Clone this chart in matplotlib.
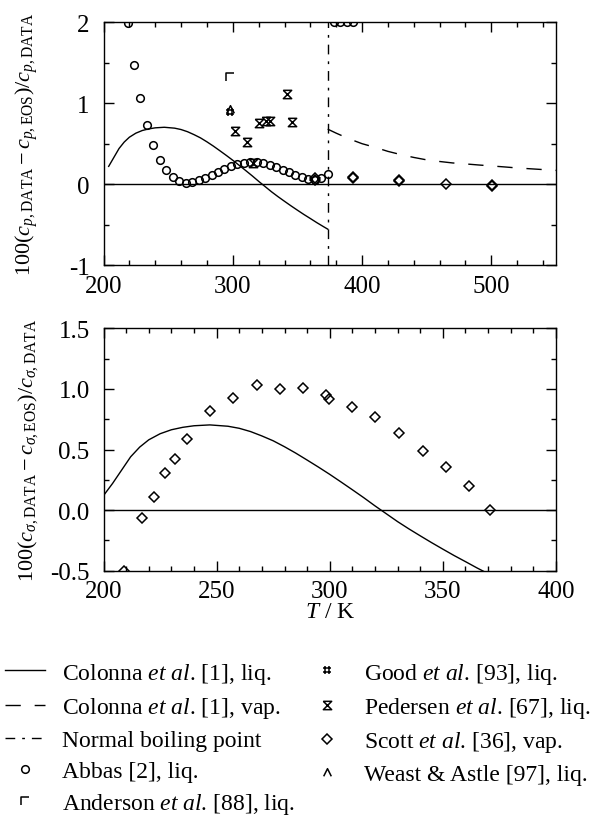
import numpy as np
import matplotlib
matplotlib.use('Agg')
import matplotlib.pyplot as plt
from matplotlib.path import Path
from matplotlib.ticker import MultipleLocator, FormatStrFormatter

plt.rcParams['font.family'] = 'serif'
plt.rcParams['font.serif'] = ['Liberation Serif', 'DejaVu Serif']
plt.rcParams['mathtext.fontset'] = 'custom'
plt.rcParams['mathtext.rm'] = 'Liberation Serif'
plt.rcParams['mathtext.it'] = 'Liberation Serif:italic'
plt.rcParams['mathtext.bf'] = 'Liberation Serif:bold'
plt.rcParams['axes.unicode_minus'] = False

#-------------------------------------------------------------------
# datos
#-------------------------------------------------------------------
# Colonna et al. [1], curva liquido (misma en ambos graficos)
T_liq = [200, 204, 208, 212, 216, 220, 225, 230, 235, 240, 247, 255, 260, 265,
         270, 275, 280, 285, 290, 295, 300, 305, 310, 315, 320, 325, 330, 335,
         340, 345, 350, 355, 360, 365, 370, 373.4]
d_liq = [0.12, 0.22, 0.33, 0.44, 0.52, 0.58, 0.63, 0.663, 0.683, 0.696, 0.703,
         0.692, 0.675, 0.648, 0.612, 0.572, 0.523, 0.47, 0.413, 0.355, 0.295,
         0.232, 0.168, 0.103, 0.035, -0.03, -0.095, -0.155, -0.212, -0.268,
         -0.322, -0.375, -0.425, -0.476, -0.524, -0.556]

# Colonna et al. [1], curva vapor
T_vap = [373.4, 380, 390, 400, 410, 420, 430, 440, 450, 460, 470, 480, 490,
         500, 510, 520, 530, 540, 550]
d_vap = [0.68, 0.63, 0.56, 0.50, 0.455, 0.405, 0.365, 0.33, 0.30, 0.28, 0.262,
         0.25, 0.237, 0.225, 0.213, 0.20, 0.19, 0.18, 0.17]

T_nbp = 373.4

# Abbas [2]
T_abbas = [218.7, 223.6, 228.5, 233.6, 238.5, 243.4, 248.6, 253.5, 258.6, 263.5,
           268.4, 273.6, 278.5, 283.7, 288.6, 293.4, 298.6, 303.5, 308.7, 313.5,
           318.5, 323.6, 328.5, 333.7, 338.6, 343.5, 348.3, 353.5, 358.4, 363.6,
           368.4, 373.6, 378.0, 383.0, 388.0, 393.0]
d_abbas = [1.99, 1.476, 1.06, 0.734, 0.483, 0.302, 0.17, 0.084, 0.038, 0.018,
           0.026, 0.051, 0.08, 0.117, 0.154, 0.19, 0.224, 0.249, 0.265, 0.273,
           0.269, 0.257, 0.236, 0.207, 0.178, 0.146, 0.112, 0.084, 0.063, 0.055,
           0.071, 0.121, 2.0, 2.0, 2.0, 2.0]

# Anderson et al. [88]
T_anderson = [297.8]
d_anderson = [1.32]

# Good et al. [93]
T_good = [298.15]
d_good = [0.89]

# Pedersen et al. [67]
T_pedersen = [301.7, 310.7, 315.9, 320.5, 325.4, 328.8, 342.2, 346.0]
d_pedersen = [0.652, 0.524, 0.257, 0.75, 0.776, 0.776, 1.114, 0.771]

# Scott et al. [36], cp
T_scott_cp = [363.6, 363.6, 393.2, 393.2, 428.8, 428.8, 464.9, 500.2, 500.2]
d_scott_cp = [0.075, 0.05, 0.09, 0.07, 0.055, 0.035, 0.0, -0.005, -0.02]

# Weast & Astle [97]
T_weast = [298.15]
d_weast = [0.93]

# Scott et al. [36], c_sigma
T_scott_cs = [209.1, 217.2, 222.5, 227.2, 231.7, 236.9, 247.1, 257.4, 267.8,
              278.0, 288.3, 298.2, 299.8, 309.7, 320.0, 330.7, 341.4, 351.4,
              361.7, 370.8]
d_scott_cs = [-0.5, -0.065, 0.111, 0.306, 0.422, 0.589, 0.82, 0.925, 1.03,
              0.999, 1.007, 0.952, 0.917, 0.853, 0.766, 0.633, 0.49, 0.358,
              0.196, 0.003]

#-------------------------------------------------------------------
# marcadores
#-------------------------------------------------------------------
M, L = Path.MOVETO, Path.LINETO
m_gamma = Path([(-0.5, -0.5), (-0.5, 0.5), (0.5, 0.5)], [M, L, L])
m_hash = Path([(-0.2, -0.5), (-0.2, 0.5), (0.2, -0.5), (0.2, 0.5),
               (-0.5, -0.2), (0.5, -0.2), (-0.5, 0.2), (0.5, 0.2)], [M, L] * 4)
m_hour = Path([(-0.5, 0.5), (0.5, 0.5), (-0.5, -0.5), (0.5, -0.5), (-0.5, 0.5)],
              [M, L, L, L, L])
m_caret = Path([(-0.5, -0.5), (0.0, 0.5), (0.5, -0.5)], [M, L, L])

mk = dict(ls='none', color='k', mfc='none', mew=1.1)

fig = plt.figure(figsize=(5.99, 8.28), dpi=100)
ax1 = fig.add_axes([0.1728, 0.6787, 0.7554, 0.2931])
ax2 = fig.add_axes([0.1728, 0.3095, 0.7554, 0.2928])

# grafico superior: cp
ax1.axhline(0, color='k', lw=1.0)
h_liq, = ax1.plot(T_liq[1:], d_liq[1:], color='k', lw=1.0)
h_vap, = ax1.plot(T_vap, d_vap, color='k', lw=1.0, ls=(0, (11, 10)))
h_nbp = ax1.axvline(T_nbp, color='k', lw=1.0, ls=(0, (7, 5, 2, 5)))
h_abbas, = ax1.plot(T_abbas, d_abbas, marker='o', ms=5.5, **mk)
h_anderson, = ax1.plot(T_anderson, d_anderson, marker=m_gamma, ms=6, **mk)
h_good, = ax1.plot(T_good, d_good, marker=m_hash, ms=5.5, **mk)
h_pedersen, = ax1.plot(T_pedersen, d_pedersen, marker=m_hour, ms=6, **mk)
h_scott, = ax1.plot(T_scott_cp, d_scott_cp, marker='D', ms=5, **mk)
h_weast, = ax1.plot(T_weast, d_weast, marker=m_caret, ms=5.5, **mk)

ax1.set_xlim(200, 550)
ax1.set_ylim(-1, 2)
ax1.xaxis.set_major_locator(MultipleLocator(100))
ax1.xaxis.set_minor_locator(MultipleLocator(20))
ax1.yaxis.set_major_locator(MultipleLocator(1))
ax1.yaxis.set_minor_locator(MultipleLocator(0.5))
ax1.set_ylabel(r'$100(c_{p,\mathrm{DATA}}-c_{p,\mathrm{EOS}})/c_{p,\mathrm{DATA}}$', fontsize=16)

# grafico inferior: c_sigma
ax2.axhline(0, color='k', lw=1.0)
ax2.plot(T_liq, d_liq, color='k', lw=1.0)
ax2.plot(T_scott_cs, d_scott_cs, marker='D', ms=5.5, **mk)
ax2.set_xlim(200, 400)
ax2.set_ylim(-0.5, 1.5)
ax2.xaxis.set_major_locator(MultipleLocator(50))
ax2.xaxis.set_minor_locator(MultipleLocator(10))
ax2.yaxis.set_major_locator(MultipleLocator(0.5))
ax2.yaxis.set_minor_locator(MultipleLocator(0.25))
ax2.yaxis.set_major_formatter(FormatStrFormatter('%.1f'))
ax2.set_ylabel(r'$100(c_{\sigma,\mathrm{DATA}}-c_{\sigma,\mathrm{EOS}})/c_{\sigma,\mathrm{DATA}}$', fontsize=16)
ax2.set_xlabel(r'$T$ / K', fontsize=17, labelpad=-1)

for ax in (ax1, ax2):
    for s in ax.spines.values():
        s.set_linewidth(1.0)
    ax.tick_params(which='both', direction='in', top=True, right=True,
                   labelsize=18, width=1.0)
    ax.tick_params(which='major', length=7)
    ax.tick_params(which='minor', length=3.6)
    ax.tick_params(axis='y', pad=10)
    ax.tick_params(axis='x', pad=7)
    ax.yaxis.set_label_coords(-0.14, 0.5)

handles = [h_liq, h_vap, h_nbp, h_abbas, h_anderson,
           h_good, h_pedersen, h_scott, h_weast]
labels = [r'Colonna $\mathit{et\ al}$. [1], liq.',
          r'Colonna $\mathit{et\ al}$. [1], vap.',
          'Normal boiling point',
          'Abbas [2], liq.',
          r'Anderson $\mathit{et\ al}$. [88], liq.',
          r'Good $\mathit{et\ al}$. [93], liq.',
          r'Pedersen $\mathit{et\ al}$. [67], liq.',
          r'Scott $\mathit{et\ al}$. [36], vap.',
          'Weast & Astle [97], liq.']
fig.legend(handles, labels, ncol=2, loc='upper left',
           bbox_to_anchor=(0.008, 0.201), frameon=False, fontsize=17,
           borderpad=0, borderaxespad=0, handlelength=1.7, handletextpad=0.72,
           columnspacing=0.5, labelspacing=0.4, markerscale=1.0)

fig.savefig('out.png', dpi=100)
